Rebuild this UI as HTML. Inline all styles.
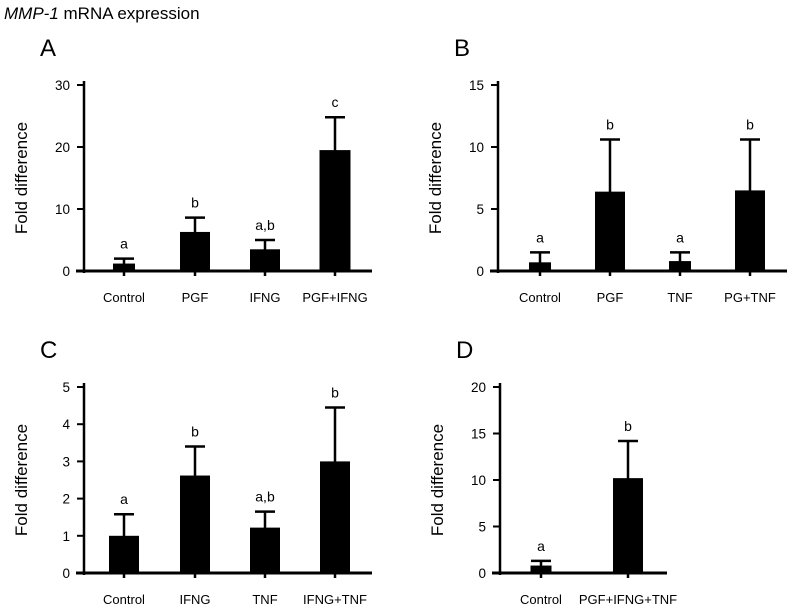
<!DOCTYPE html>
<html><head><meta charset="utf-8"><style>
body{margin:0;background:#fff;width:793px;height:607px;overflow:hidden}
svg{font-family:"Liberation Sans",sans-serif}
</style></head><body>
<svg id="s" width="793" height="607">
<text x="4" y="19" font-size="17"><tspan font-style="italic">MMP-1</tspan> mRNA expression</text>
</svg>
<script>
const catsA=["Control","PGF","IFNG","PGF+IFNG"];
const meanA=[1.2,6.3,3.5,19.5];
const errA=[2.0,8.6,5.0,24.8];
const sigA=["a","b","a,b","c"];
const ticksA=[0,10,20,30];
const catsB=["Control","PGF","TNF","PG+TNF"];
const meanB=[0.7,6.4,0.8,6.5];
const errB=[1.5,10.6,1.5,10.6];
const sigB=["a","b","a","b"];
const ticksB=[0,5,10,15];
const catsC=["Control","IFNG","TNF","IFNG+TNF"];
const meanC=[1.0,2.62,1.22,3.0];
const errC=[1.58,3.4,1.65,4.45];
const sigC=["a","b","a,b","b"];
const ticksC=[0,1,2,3,4,5];
const catsD=["Control","PGF+IFNG+TNF"];
const meanD=[0.8,10.2];
const errD=[1.3,14.2];
const sigD=["a","b"];
const ticksD=[0,5,10,15,20];
const NS="http://www.w3.org/2000/svg";
const svg=document.getElementById('s');
function mk(tag,attrs,parent,text){const e=document.createElementNS(NS,tag);for(const k in attrs)e.setAttribute(k,attrs[k]);if(text!==undefined)e.textContent=text;parent.appendChild(e);return e;}
function panel(id,letter,ox,y0,cats,means,errs,sigs,ticks,xs,widths){
  const g=mk('g',{},svg);
  
  
  const ymax=ticks[ticks.length-1];
  const ytop=y0-186;
  const y=v=>y0-(v/ymax)*186;
  const L=mk('text',{x:ox-44,y:y0-215,'font-size':24},g,letter);
  
  
  const yt=mk('text',{transform:`translate(${ox-57},${y0-93}) rotate(-90)`,'text-anchor':'middle','font-size':17},g,'Fold difference');
  
  
  mk('line',{x1:ox,x2:ox,y1:ytop-4,y2:y0+2,stroke:'#000','stroke-width':2.5},g);
  const xend=xs[xs.length-1]+(cats.length>2?37:39);
  const ax=mk('line',{x1:ox-8,x2:xend,y1:y0,y2:y0,stroke:'#000','stroke-width':3},g);
  
  
  ticks.forEach(t=>{
    mk('line',{x1:ox-7,x2:ox,y1:y(t),y2:y(t),stroke:'#000','stroke-width':2},g);
    const tl=mk('text',{x:ox-14,y:y(t)+5,'text-anchor':'end','font-size':13.5},g,t);
    
    
  });
  cats.forEach((c,i)=>{
    const cx=xs[i],w=widths[i];
    mk('line',{x1:cx,x2:cx,y1:y(errs[i]),y2:y0+5,stroke:'#000','stroke-width':2.5},g);
    mk('line',{x1:cx-10,x2:cx+10,y1:y(errs[i]),y2:y(errs[i]),stroke:'#000','stroke-width':2.5},g);
    const b=mk('rect',{x:cx-w/2,y:y(means[i]),width:w,height:y0-y(means[i]),fill:'#000'},g);
    
    
    const s=mk('text',{x:cx,y:y(errs[i])-10,'text-anchor':'middle','font-size':14},g,sigs[i]);
    
    
    const cl=mk('text',{x:cx,y:y0+31,'text-anchor':'middle','font-size':13},g,c);
    
    
  });
}
panel('a','A',84,271,catsA,meanA,errA,sigA,ticksA,[124,195,265,335],[22,30,30,31]);
panel('b','B',498,271,catsB,meanB,errB,sigB,ticksB,[540,610,680,750],[22,30,22,30]);
panel('c','C',84,573,catsC,meanC,errC,sigC,ticksC,[124,195,265,335],[30,30,30,30]);
panel('d','D',500,573,catsD,meanD,errD,sigD,ticksD,[541,628],[21,30]);
</script>
</body></html>
